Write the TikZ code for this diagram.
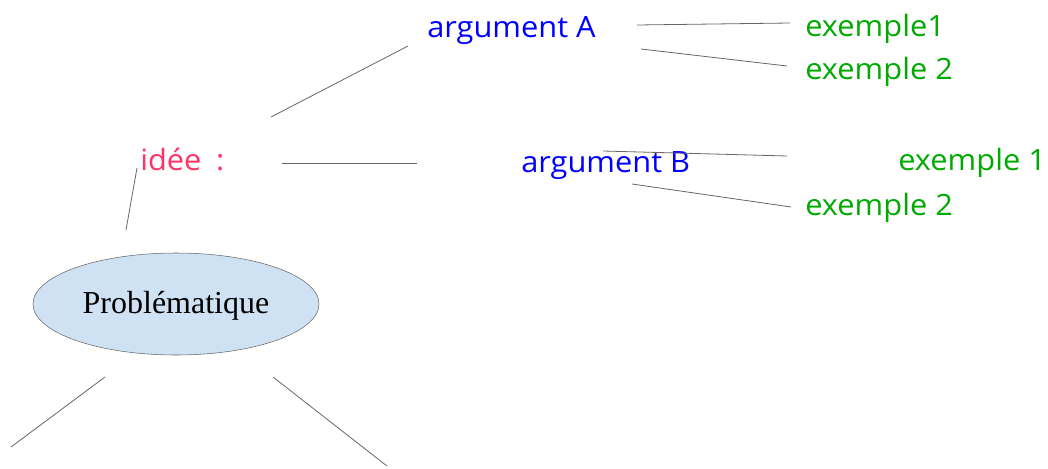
\documentclass[tikz,border=0pt]{standalone}
\usepackage{fontspec}
\setmainfont{Liberation Serif}
\newfontfamily\comicfont[FakeStretch=1.05]{Open Sans}
\usetikzlibrary{shapes.geometric}
\definecolor{ideered}{HTML}{FF3366}
\definecolor{argblue}{HTML}{0000FF}
\definecolor{exgreen}{HTML}{00AA00}
\definecolor{bulle}{HTML}{CFE2F3}

\begin{document}
\begin{tikzpicture}[
    x=0.75pt,y=-0.75pt,
    word/.style={anchor=base west,inner sep=0pt,font=\comicfont\fontsize{22}{24}\selectfont},
    idee/.style={word,text=ideered},
    arg/.style={word,text=argblue},
    ex/.style={word,text=exgreen},
    link/.style={draw=gray!80!black,line width=0.6pt}
  ]
    \useasboundingbox (0,0) rectangle (1048,468);
    % the problem in the middle
    \node[ellipse,draw=gray!80!black,fill=bulle,inner sep=0pt,
          minimum width=214.5pt,minimum height=76.5pt] (P) at (176,304) {};
    \node[anchor=base,inner sep=0pt,font=\fontsize{24}{26}\selectfont] (Pt) at (176,313) {Problématique};
    \node[idee] (I) at (140,170) {idée\hspace{0.5em}:};
    \node[arg] (A) at (427,37) {argument A};
    \node[arg] (B) at (521,172) {argument B};
    \node[ex] (A1) at (805,36) {exemple1};
    \node[ex] (A2) at (805,79) {exemple 2};
    \node[ex] (B1) at (898,170) {exemple 1};
    \node[ex] (B2) at (805,215) {exemple 2};
    % loose line ends
    \coordinate (i1) at (271,117); \coordinate (a0) at (408,46);
    \coordinate (a1) at (637,25);  \coordinate (a1e) at (790,23);
    \coordinate (a2) at (641,49);  \coordinate (a2e) at (787,66);
    \coordinate (i2) at (282,163); \coordinate (b0) at (417,163);
    \coordinate (b1) at (603,151); \coordinate (b1e) at (787,156);
    \coordinate (b2) at (632,184); \coordinate (b2e) at (791,207);
    \coordinate (i0) at (137,168); \coordinate (p0) at (126,230);
    \coordinate (p1) at (105,377); \coordinate (q1) at (11,447);
    \coordinate (p2) at (273,377); \coordinate (q2) at (387,466);
    \draw[link] (i1) -- (a0);
    \draw[link] (a1) -- (a1e);
    \draw[link] (a2) -- (a2e);
    \draw[link] (i2) -- (b0);
    \draw[link] (b1) -- (b1e);
    \draw[link] (b2) -- (b2e);
    \draw[link] (i0) -- (p0);
    \draw[link] (p1) -- (q1);
    \draw[link] (p2) -- (q2);
\end{tikzpicture}
\end{document}
